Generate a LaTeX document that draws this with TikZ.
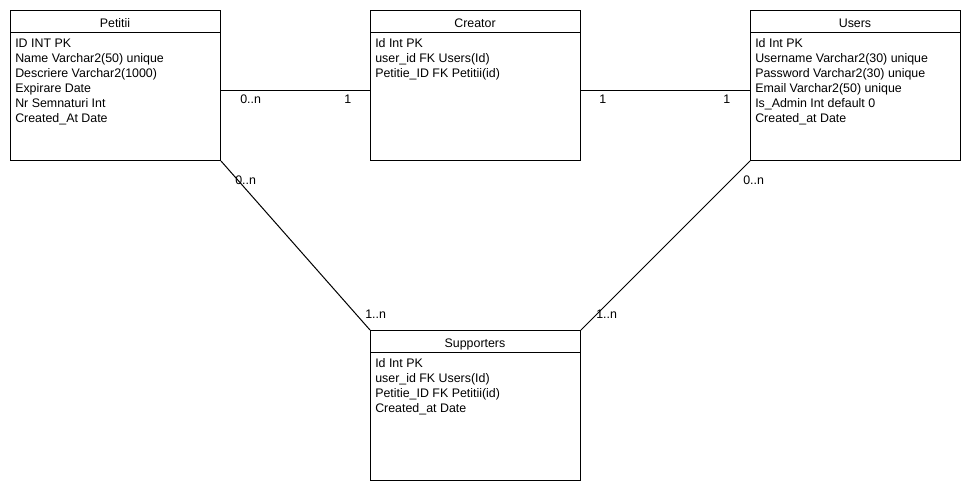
\documentclass[tikz,border=0pt]{standalone}
\usepackage{fontspec}
\setmainfont{Liberation Sans}
\begin{document}
\begin{tikzpicture}[x=0.75pt,y=-0.75pt,
  font=\fontsize{9.3pt}{11.25pt}\selectfont,
  entity/.style={draw,line width=0.75pt,minimum width=157.5pt,minimum height=112.5pt,
    anchor=north west,inner sep=0pt},
  title/.style={anchor=base,inner sep=0pt},
  fields/.style={anchor=north west,inner sep=0pt,align=left},
  card/.style={anchor=base west,inner sep=0pt},
  link/.style={line width=0.75pt}]
\useasboundingbox (0,0) rectangle (970,490);

% entity boxes
\node[entity] (petitii) at (10,10) {};
\node[entity] (creator) at (370,10) {};
\node[entity] (users) at (750,10) {};
\node[entity] (supporters) at (370,330) {};

% header separators
\foreach \e in {petitii,creator,users,supporters}
  \draw[line width=0.75pt] ([yshift=-16.5pt]\e.north west) -- ([yshift=-16.5pt]\e.north east);

% headers
\node[title] (tpet) at (115,27.5) {Petitii};
\node[title] (tcre) at (475,27.5) {Creator};
\node[title] (tusr) at (855,27.5) {Users};
\node[title] (tsup) at (475,347.5) {Supporters};

% fields
\node[fields] (fpet) at (15,38.5) {ID INT PK\\Name Varchar2(50) unique\\Descriere Varchar2(1000)\\Expirare Date\\Nr Semnaturi Int\\Created\_At Date};
\node[fields] (fcre) at (375,38.5) {Id Int PK\\user\_id FK Users(Id)\\Petitie\_ID FK Petitii(id)};
\node[fields] (fusr) at (755,38.5) {Id Int PK\\Username Varchar2(30) unique\\Password Varchar2(30) unique\\Email Varchar2(50) unique\\Is\_Admin Int default 0\\Created\_at Date};
\node[fields] (fsup) at (375,358.5) {Id Int PK\\user\_id FK Users(Id)\\Petitie\_ID FK Petitii(id)\\Created\_at Date};

% relationships
\draw[link] ([yshift=-3.75pt]petitii.east) -- ([yshift=-3.75pt]creator.west);
\draw[link] ([yshift=-3.75pt]creator.east) -- ([yshift=-3.75pt]users.west);
\draw[link] (petitii.south east) -- (supporters.north west);
\draw[link] (users.south west) -- (supporters.north east);

% cardinalities
\node[card] (c1) at (240,103) {0..n};
\node[card] (c2) at (344,103) {1};
\node[card] (c3) at (599,103) {1};
\node[card] (c4) at (723,103) {1};
\node[card] (c5) at (235,184) {0..n};
\node[card] (c6) at (743,184) {0..n};
\node[card] (c7) at (365,318) {1..n};
\node[card] (c8) at (596,318) {1..n};
\end{tikzpicture}
\end{document}
